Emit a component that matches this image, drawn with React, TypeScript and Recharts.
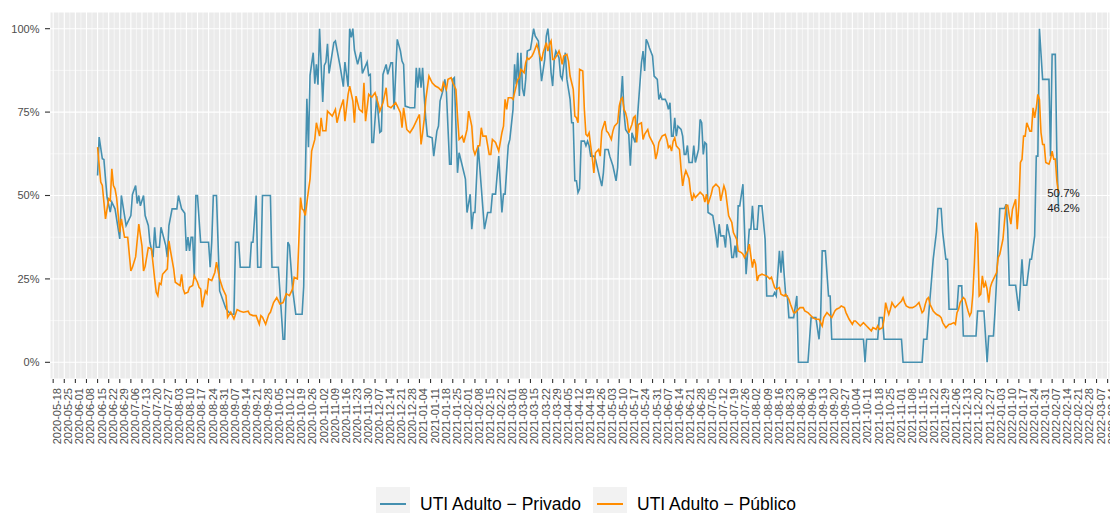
import React from 'react'
import { LineChart, Line, XAxis, YAxis, CartesianGrid } from 'recharts'

const FONT = '"Liberation Sans", Arial, Helvetica, sans-serif'
const START = Date.UTC(2020, 4, 18)
const DAY = 86400000

// day offsets from 2020-05-18, values in %
const privadoDia = [
  28, 29, 31, 32, 33, 34, 36, 37, 39, 42, 43, 46, 49, 50, 52, 53, 54, 55, 57, 58,
  60, 61, 63, 64, 65, 67, 68, 71, 72, 73, 75, 78, 79, 81, 83, 84, 85, 86, 87, 88,
  89, 90, 91, 93, 98, 99, 100, 101, 103, 105, 109, 112, 114, 115, 117, 118, 124, 125, 126, 128,
  129, 131, 132, 137, 138, 142, 145, 146, 148, 149, 151, 153, 157, 158, 159, 160, 161, 162, 164, 165,
  166, 167, 168, 170, 171, 172, 173, 174, 177, 178, 181, 183, 184, 186, 187, 188, 189, 190, 192, 194,
  195, 198, 199, 200, 201, 202, 204, 206, 207, 208, 210, 211, 213, 214, 215, 217, 219, 220, 221, 222,
  225, 228, 229, 230, 231, 232, 233, 234, 235, 236, 239, 240, 242, 243, 244, 246, 247, 248, 250, 251,
  252, 253, 255, 256, 258, 260, 261, 263, 264, 265, 266, 268, 272, 274, 276, 277, 279, 281, 283, 284,
  285, 287, 288, 290, 291, 292, 293, 294, 295, 296, 297, 298, 299, 301, 302, 303, 304, 306, 307, 308,
  310, 311, 312, 313, 314, 315, 316, 317, 319, 320, 321, 323, 324, 326, 327, 328, 329, 330, 331, 332,
  333, 335, 336, 337, 338, 339, 341, 342, 344, 346, 347, 348, 350, 351, 353, 355, 356, 357, 359, 360,
  361, 363, 364, 365, 367, 368, 369, 371, 372, 373, 374, 375, 376, 378, 379, 381, 382, 383, 384, 386,
  387, 388, 389, 390, 391, 392, 393, 394, 396, 397, 398, 399, 400, 401, 403, 404, 405, 407, 408, 409,
  410, 411, 412, 413, 416, 418, 419, 420, 421, 423, 424, 425, 427, 428, 429, 430, 431, 432, 433, 435,
  436, 437, 439, 440, 441, 442, 444, 445, 447, 449, 450, 454, 455, 456, 458, 459, 460, 461, 462, 463,
  464, 467, 469, 470, 476, 478, 481, 483, 484, 485, 487, 489, 490, 491, 511, 512, 513, 520, 521, 523,
  524, 535, 536, 548, 549, 551, 552, 555, 557, 558, 560, 561, 563, 564, 565, 570, 571, 573, 574, 582,
  583, 587, 589, 590, 593, 594, 595, 597, 600, 601, 602, 603, 607, 609, 610, 611, 612, 614, 616, 617,
  619, 620, 621, 622, 624, 628, 629, 630, 632, 633, 634,
]
const privadoPct = [
  56, 67.5, 61, 60.8, 55, 49.4, 45, 48, 46, 37, 50, 41, 44, 50.3, 53, 47.6, 50, 46.9, 50, 44,
  41, 36, 31.5, 40.5, 34.5, 34.5, 40.5, 35, 31.5, 41, 46, 46, 50, 46, 44.7, 33.4, 37.5, 33.4, 37.5, 37.5,
  25.5, 50, 50, 36, 36, 28.5, 36, 50, 50, 21.4, 16, 14.4, 14.4, 36, 36, 28.5, 28.5, 36, 36, 50,
  28.5, 28.5, 50, 50, 28.5, 28.5, 6.9, 6.9, 36, 35, 21.9, 14.4, 14.4, 22.8, 55, 79, 64.5, 86, 92.8, 83.5,
  89.3, 83.2, 100, 78, 89, 90, 95.5, 86.6, 95.8, 96.3, 88.6, 82.6, 90, 82.6, 100, 97.4, 100, 93.6, 89.3, 93,
  86.6, 90, 86, 86.3, 65.9, 65.9, 79.8, 68.9, 69.3, 86.3, 89.3, 86.3, 89.8, 89.8, 75.8, 96.8, 93.3, 90.3, 89.3, 76.8,
  76.3, 76.3, 88.3, 82.3, 88.3, 82.3, 88.3, 79.8, 72.8, 67.8, 67.3, 61.8, 69.3, 70.8, 78.3, 81.8, 84.8, 81, 59.4, 59.4,
  84.8, 85.3, 56.8, 62.8, 58.9, 54.9, 44.9, 50.4, 39.9, 44.9, 44.9, 65, 39.9, 44.9, 44.9, 50.4, 50.4, 61.8, 44.9, 50.4,
  50.4, 65, 66.8, 75.8, 89.3, 83.3, 92.8, 79.8, 92.8, 82, 79.8, 84.8, 93.3, 93.8, 96.8, 100, 97.8, 96.3, 90.3, 84.3,
  90.8, 97.8, 100, 95, 86.8, 82.8, 90.8, 93.3, 91.3, 85.8, 84.8, 92.8, 84.8, 78.8, 71.8, 71.8, 54.4, 54.4, 50.9, 52,
  66.3, 66.3, 64.9, 66.3, 64.9, 61.8, 61.8, 60.9, 56.8, 52.8, 56.8, 63.8, 63.8, 61.8, 58.9, 54.4, 58.4, 70.8, 85.8, 74.8,
  69.8, 68.3, 58.9, 68.8, 65.9, 69.8, 76.8, 89.8, 93.3, 87.3, 96.8, 95.8, 94.3, 91.8, 85.8, 84.8, 78.8, 80.3, 78.8, 78.8,
  77.8, 75.8, 77.8, 67.8, 67.8, 73.3, 67.8, 70.8, 69.8, 67.8, 62.3, 62.3, 65, 59.9, 59.9, 65, 59.9, 63.8, 72.8, 71.8,
  62.3, 65.9, 65.4, 44.9, 44, 37.9, 34.4, 41.4, 37.9, 37.9, 34.4, 41.4, 37, 31.4, 31.4, 35, 31.4, 46.9, 46.9, 53.4,
  39.9, 26.4, 39.9, 39.9, 46.9, 39.9, 39.9, 46.9, 46.9, 36.9, 19.9, 19.9, 20.9, 19.9, 33.4, 26.9, 33.4, 26.4, 19.9, 19.9,
  13.4, 13.4, 19.9, 0, 0, 13.4, 13.4, 6.9, 13.4, 33.4, 33.4, 19.9, 19.9, 6.9, 6.9, 0, 6.9, 6.9, 13.4, 13.4,
  6.9, 6.9, 0, 0, 6.9, 6.9, 13.4, 30.9, 38.9, 46.1, 46.1, 38.9, 30.9, 30.9, 15.9, 15.9, 22.9, 22.9, 7.9, 7.9,
  15.4, 15.4, 0, 7.9, 7.9, 15.4, 24.9, 46.1, 46.1, 47.4, 39.9, 23.1, 23.1, 15.4, 23.1, 30.9, 23.1, 23.1, 30.9, 30.9,
  37.9, 61.8, 61.8, 100, 84.8, 84.8, 61.8, 92.3, 92.3, 61.8, 46.2,
]

const publicoDia = [
  28, 30, 31, 32, 33, 35, 36, 37, 38, 39, 40, 42, 43, 45, 47, 49, 50, 52, 54, 56,
  57, 58, 60, 62, 64, 65, 66, 67, 68, 69, 72, 73, 74, 76, 77, 80, 81, 82, 83, 85,
  86, 88, 89, 91, 92, 93, 94, 96, 97, 98, 100, 102, 103, 105, 107, 109, 110, 112, 114, 115,
  116, 118, 120, 123, 124, 126, 128, 130, 131, 132, 134, 136, 137, 139, 141, 143, 145, 147, 149, 151,
  152, 154, 156, 157, 158, 159, 161, 162, 163, 165, 166, 168, 169, 170, 172, 173, 176, 178, 179, 181,
  183, 184, 186, 187, 189, 190, 191, 193, 195, 196, 197, 199, 200, 201, 203, 205, 206, 208, 210, 211,
  213, 216, 219, 220, 221, 223, 225, 227, 229, 231, 232, 233, 234, 235, 237, 239, 241, 243, 245, 246,
  248, 249, 251, 252, 254, 255, 256, 258, 259, 261, 262, 264, 265, 266, 268, 269, 270, 271, 273, 275,
  276, 277, 279, 281, 283, 284, 285, 286, 287, 289, 290, 292, 293, 294, 295, 297, 298, 299, 300, 302,
  303, 305, 306, 307, 308, 309, 311, 312, 313, 314, 315, 316, 318, 319, 320, 321, 322, 324, 325, 326,
  328, 329, 330, 331, 332, 334, 335, 336, 337, 338, 339, 340, 341, 342, 344, 345, 346, 348, 349, 350,
  352, 353, 354, 356, 357, 358, 359, 360, 361, 362, 363, 365, 366, 367, 368, 369, 371, 372, 373, 375,
  376, 378, 379, 380, 381, 382, 384, 386, 387, 388, 389, 390, 391, 392, 393, 395, 396, 397, 398, 399,
  401, 402, 403, 404, 405, 407, 408, 410, 411, 412, 413, 415, 416, 418, 420, 421, 423, 424, 426, 428,
  429, 431, 432, 434, 435, 436, 438, 439, 441, 442, 443, 444, 445, 447, 450, 452, 453, 454, 455, 456,
  458, 459, 461, 462, 464, 465, 467, 468, 471, 473, 474, 476, 477, 479, 481, 483, 485, 486, 488, 489,
  491, 493, 494, 496, 497, 499, 500, 502, 504, 505, 506, 508, 509, 511, 513, 514, 516, 517, 519, 520,
  521, 523, 524, 525, 526, 527, 528, 529, 530, 531, 533, 535, 536, 537, 538, 540, 542, 544, 545, 546,
  547, 548, 549, 550, 551, 552, 553, 555, 557, 559, 560, 561, 563, 565, 566, 568, 569, 570, 571, 572,
  574, 575, 577, 578, 579, 580, 581, 582, 583, 584, 585, 586, 587, 588, 589, 590, 591, 592, 594, 595,
  596, 597, 599, 600, 601, 602, 603, 604, 605, 606, 607, 608, 609, 610, 611, 612, 613, 614, 616, 617,
  618, 619, 620, 621, 622, 623, 624, 625, 626, 628, 629, 630, 631, 632, 633, 634,
]
const publicoPct = [
  64.5, 54, 53, 48, 43, 49, 48.5, 58, 53, 52, 49.4, 39, 43, 37.5, 37.5, 27.4, 28.5, 31.6, 41.4, 34.9,
  27.4, 28.8, 34.4, 34, 25, 21, 20, 23.7, 23.3, 26.4, 28, 36.4, 33.4, 28, 24, 23, 26.4, 22, 20.6, 21,
  22.5, 23, 26, 24, 22.5, 22, 16.5, 21.4, 20.6, 25, 24.5, 27, 30, 25, 22, 20, 13.5, 15, 13, 14.4,
  15.8, 15.3, 15, 15.3, 14.4, 14, 14, 11.4, 14, 13.5, 11.4, 14.4, 15, 17.9, 19.4, 17.5, 17.9, 20.6, 20, 22,
  25.5, 25, 49.4, 46, 45.5, 44, 51.5, 55, 63.3, 66.8, 71.8, 67.8, 73.3, 69.4, 69.4, 75.3, 73.8, 75.8, 71.8, 75.8,
  78.8, 72.3, 80.3, 82.8, 78.3, 71.8, 79.8, 75.8, 75, 83.8, 72.3, 80.3, 79.8, 79.5, 80.8, 77.5, 75.3, 77.8, 82.3, 76.8,
  76.3, 77.8, 74.8, 70.3, 76.3, 69.8, 68.8, 70.3, 72.3, 74.3, 65.3, 68.8, 72.8, 78.8, 85.8, 83.8, 82.8, 82.3, 81.3, 83.8,
  81.8, 84.8, 85.3, 83.8, 81.8, 73.8, 66.8, 67.8, 65.9, 69.8, 75.3, 70.8, 63.8, 62.3, 64.9, 64.9, 70.3, 67.8, 67.8, 62.3,
  62.3, 66.8, 65.9, 63.3, 68.8, 70.8, 78.8, 75.8, 79.3, 79.3, 78.8, 82.8, 84.8, 85.3, 87.8, 86.8, 89.8, 91.3, 90.8, 91.8,
  92.8, 95.3, 93.8, 91.8, 90.3, 92.8, 95.8, 93.3, 95.3, 96.3, 90.8, 90.8, 92.3, 93.3, 91.8, 89.3, 91.8, 92.3, 90.3, 85.8,
  81.8, 73.8, 73.3, 71.8, 87.8, 87.3, 75.8, 68.3, 67.8, 68.8, 64.9, 61.3, 56.8, 62.8, 63.8, 61.8, 69.3, 72.3, 69.3, 68.8,
  66.8, 69.3, 70.8, 71.8, 76.8, 78.8, 79.3, 75.8, 74.8, 72.8, 68.8, 71.3, 73.3, 73.8, 65.9, 71.3, 71.8, 66.8, 68.3, 69.8,
  67.8, 65.9, 64.9, 60.9, 62.8, 65.9, 67.8, 68.3, 66.8, 64.4, 64.9, 63.3, 66.3, 67.3, 64.9, 63.8, 57.9, 52.9, 55.8, 57.4,
  55, 50.9, 48.4, 50.4, 49.4, 50.4, 51, 50, 48, 50.4, 47.4, 50.4, 52.4, 53.4, 52.4, 48.4, 52.9, 51.4, 43.9, 41.9,
  38.9, 36.9, 33.4, 32.9, 32.4, 31.4, 33.4, 35.4, 28.4, 30.9, 29.4, 24.4, 25.9, 26.4, 25.9, 25, 25.5, 23.9, 22.4, 21.9,
  22.4, 20.4, 19.9, 20.4, 18.9, 17.4, 14.9, 14.9, 16.4, 16.4, 15.4, 14.9, 14.4, 13.4, 12.9, 12.9, 10.9, 13.4, 14.9, 14.4,
  13.4, 15.4, 15.9, 16.4, 16.9, 16.4, 14.9, 12.9, 11.4, 12.4, 12.4, 11.4, 10.9, 11.9, 10.9, 10.4, 9.4, 10.4, 9.9, 10.9,
  9.9, 10.4, 12.9, 17.9, 15.9, 14.4, 15.9, 17.9, 17.1, 16.4, 17.4, 18.4, 19.4, 17.9, 16.9, 16.4, 16.4, 16.9, 17.4, 17.9,
  16.4, 14.9, 15.4, 17.4, 18.9, 19.4, 17.4, 15.4, 14.4, 13.9, 13.4, 11.9, 10.4, 11.4, 11.4, 11.9, 11.4, 14.9, 15.9, 17.9,
  19.4, 18.9, 15.4, 13.9, 14.9, 20.4, 29.9, 41.9, 38.9, 19.9, 20.4, 25.9, 22.4, 23.9, 21.9, 17.9, 22.4, 23.9, 25.9, 26.9,
  31.4, 32.4, 36.9, 42.4, 47.1, 47.1, 43.9, 41.4, 45.9, 47.4, 48.9, 39.9, 46.9, 59.9, 60.8, 67.8, 67.8, 71.8, 69.3, 69.3,
  76.3, 73.3, 76.3, 80.3, 78.8, 68.8, 65.3, 65.3, 59.9, 59.4, 60.9, 63.3, 60.9, 60.9, 54.4, 50.7,
]

const yTicks = [0, 25, 50, 75, 100]
const yMinor = [12.5, 37.5, 62.5, 87.5]
const xDomain: [number, number] = [-2, 666.5]

// weekly breaks (Mondays) and minor breaks between them
const weekTicks: number[] = []
for (let d = 0; d <= 665; d += 7) weekTicks.push(d)
const weekMinor = weekTicks.map(d => d + 3.5).filter(d => d < xDomain[1])

const fmtDate = (d: number) => new Date(START + d * DAY).toISOString().slice(0, 10)

const privado = privadoDia.map((d, i) => ({ d, v: privadoPct[i] }))
const publico = publicoDia.map((d, i) => ({ d, v: publicoPct[i] }))

const BLUE = '#4590B0'
const ORANGE = '#FF8C00'

function DateTick({ x, y, payload }: any) {
  const cx = x + 4
  return (
    <text
      x={cx}
      y={y}
      transform={`rotate(-90 ${cx} ${y})`}
      textAnchor="end"
      dominantBaseline="central"
      fontSize={11}
      fill="#4D4D4D"
      fontFamily={FONT}
    >
      {fmtDate(payload.value)}
    </text>
  )
}

const endLabel = (n: number) => (props: any) => {
  if (props.index !== n - 1) return null
  const vb = props.viewBox || {}
  const px = props.x ?? vb.x
  const py = props.y ?? vb.y
  return (
    <text x={px + 5} y={py} textAnchor="middle" dominantBaseline="central" fontSize={11.5} fill="#1A1A1A" fontFamily={FONT}>
      {`${Number(props.value).toFixed(1)}%`}
    </text>
  )
}

function LegendKey({ color, label, left }: { color: string; label: string; left: number }) {
  return (
    <div style={{ position: 'absolute', left, top: 487, height: 34, display: 'flex', alignItems: 'center' }}>
      <span style={{ width: 34, height: 34, background: '#F2F2F2', display: 'flex', alignItems: 'center', justifyContent: 'center' }}>
        <span style={{ width: 26, height: 1.6, background: color, display: 'block' }} />
      </span>
      <span style={{ marginLeft: 10, fontSize: 17.5, color: '#000', fontFamily: FONT, whiteSpace: 'nowrap' }}>{label}</span>
    </div>
  )
}

export default function App() {
  return (
    <div style={{ position: 'absolute', left: 0, top: 0, width: 1110, height: 513, background: '#fff', overflow: 'hidden' }}>
      <LineChart width={1110} height={513} margin={{ top: 12, right: 0, left: 0, bottom: 0 }} style={{ fontFamily: FONT }}>
        <CartesianGrid fill="#EBEBEB" stroke="#FFFFFF" strokeWidth={1.1} />
        <CartesianGrid
          fill="none"
          stroke="#FFFFFF"
          strokeWidth={0.55}
          verticalValues={weekMinor}
          horizontalValues={yMinor}
        />
        <XAxis
          dataKey="d"
          type="number"
          domain={xDomain}
          allowDataOverflow
          ticks={weekTicks}
          interval={0}
          height={134}
          axisLine={false}
          tickSize={4}
          tickMargin={5}
          tickLine={{ stroke: '#333333', strokeWidth: 1.1 }}
          tick={<DateTick />}
        />
        <YAxis
          type="number"
          domain={[-5, 105]}
          allowDataOverflow
          ticks={yTicks}
          interval={0}
          width={50}
          axisLine={false}
          tickSize={5}
          tickMargin={5.5}
          tickLine={{ stroke: '#333333', strokeWidth: 1.1 }}
          tickFormatter={(v: number) => `${v}%`}
          tick={{ fontSize: 11, fill: '#4D4D4D', fontFamily: FONT }}
        />
        <Line
          data={privado}
          dataKey="v"
          type="linear"
          stroke={BLUE}
          strokeWidth={1.6}
          dot={false}
          activeDot={false}
          isAnimationActive={false}
          label={endLabel(privado.length)}
        />
        <Line
          data={publico}
          dataKey="v"
          type="linear"
          stroke={ORANGE}
          strokeWidth={1.6}
          dot={false}
          activeDot={false}
          isAnimationActive={false}
          label={endLabel(publico.length)}
        />
      </LineChart>
      <LegendKey color={BLUE} label="UTI Adulto − Privado" left={376} />
      <LegendKey color={ORANGE} label="UTI Adulto − Público" left={593} />
    </div>
  )
}
